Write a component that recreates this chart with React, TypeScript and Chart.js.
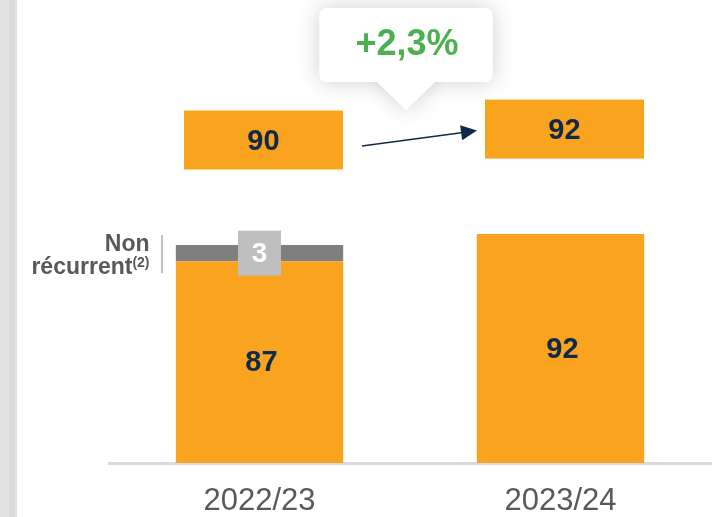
import React, { useEffect, useRef } from "react";
import { Chart, registerables } from "chart.js";

Chart.register(...registerables);

const categories = ["2022/23", "2023/24"];
const recurringValues = [87, 92];
const nonRecurringValues = [3, 0];
const growthLabel = "+2,3%";
const nonRecurringLabelLines = ["Non", "récurrent"];
const nonRecurringNote = "(2)";

const FONT = "'Liberation Sans', Arial, sans-serif";
const ORANGE = "#F9A31F";
const DARK_GRAY = "#7F7F7F";
const LIGHT_GRAY = "#BFBFBF";
const NAVY = "#10294A";
const TEXT_GRAY = "#595959";
const GREEN = "#4CB050";

function roundRect(ctx: CanvasRenderingContext2D, x: number, y: number, w: number, h: number, r: number) {
  ctx.beginPath();
  ctx.moveTo(x + r, y);
  ctx.lineTo(x + w - r, y);
  ctx.quadraticCurveTo(x + w, y, x + w, y + r);
  ctx.lineTo(x + w, y + h - r);
  ctx.quadraticCurveTo(x + w, y + h, x + w - r, y + h);
  ctx.lineTo(x + r, y + h);
  ctx.quadraticCurveTo(x, y + h, x, y + h - r);
  ctx.lineTo(x, y + r);
  ctx.quadraticCurveTo(x, y, x + r, y);
  ctx.closePath();
}

const decorPlugin = {
  id: "decor",
  beforeDraw(chart: any) {
    const ctx = chart.ctx as CanvasRenderingContext2D;
    ctx.save();
    ctx.fillStyle = "#E2E2E2";
    ctx.fillRect(0, 0, 17, chart.height);
    ctx.fillStyle = "#DADADA";
    ctx.fillRect(9, 0, 6, chart.height);
    ctx.restore();
  },
  afterDatasetsDraw(chart: any) {
    const ctx = chart.ctx as CanvasRenderingContext2D;
    const yScale = chart.scales.y;
    const area = chart.chartArea;
    const recMeta = chart.getDatasetMeta(0);
    const nrMeta = chart.getDatasetMeta(1);
    ctx.save();

    // values inside bars
    ctx.textAlign = "center";
    ctx.textBaseline = "middle";
    recMeta.data.forEach((bar: any, i: number) => {
      const base = Math.min(bar.base, area.bottom);
      ctx.fillStyle = NAVY;
      ctx.font = `bold 29px ${FONT}`;
      ctx.fillText(String(recurringValues[i]), bar.x + 2, (bar.y + base) / 2 + 1);
    });
    nrMeta.data.forEach((bar: any, i: number) => {
      const v = nonRecurringValues[i];
      if (!v) return;
      const cy = (bar.y + Math.min(bar.base, area.bottom)) / 2;
      ctx.fillStyle = LIGHT_GRAY;
      ctx.fillRect(bar.x - 21.5, cy - 22.5, 43, 45);
      ctx.fillStyle = "#FFFFFF";
      ctx.font = `bold 28px ${FONT}`;
      ctx.fillText(String(v), bar.x, cy + 1);

      // Non récurrent label
      const rightX = bar.x - 110;
      ctx.fillStyle = TEXT_GRAY;
      ctx.textAlign = "right";
      ctx.textBaseline = "alphabetic";
      ctx.font = `bold 23px ${FONT}`;
      ctx.fillText(nonRecurringLabelLines[0], rightX, cy - 2);
      ctx.font = `bold 14px ${FONT}`;
      const nw = ctx.measureText(nonRecurringNote).width;
      ctx.fillText(nonRecurringNote, rightX, cy + 14);
      ctx.font = `bold 23px ${FONT}`;
      ctx.fillText(nonRecurringLabelLines[1], rightX - nw, cy + 21);
      ctx.strokeStyle = DARK_GRAY;
      ctx.lineWidth = 1;
      ctx.beginPath();
      ctx.moveTo(rightX + 12.5, cy - 18);
      ctx.lineTo(rightX + 12.5, cy + 20);
      ctx.stroke();
      ctx.textAlign = "center";
      ctx.textBaseline = "middle";
    });

    // totals boxes
    const boxes = recMeta.data.map((bar: any, i: number) => {
      const total = recurringValues[i] + nonRecurringValues[i];
      const cx = bar.x + 4;
      const cy = yScale.getPixelForValue(total) - 105;
      return { cx, cy, w: 159, h: 59, total };
    });

    // callout
    const calloutCx = (boxes[0].cx + boxes[1].cx) / 2 - 8;
    const cw = 173;
    const ch = 74;
    const ctop = 8;
    const drawCallout = () => {
      roundRect(ctx, calloutCx - cw / 2, ctop, cw, ch, 8);
      ctx.fill();
      ctx.beginPath();
      ctx.moveTo(calloutCx - 30, ctop + ch - 1);
      ctx.lineTo(calloutCx + 30, ctop + ch - 1);
      ctx.lineTo(calloutCx, ctop + ch + 28);
      ctx.closePath();
      ctx.fill();
    };
    ctx.save();
    ctx.shadowColor = "rgba(0,0,0,0.2)";
    ctx.shadowBlur = 22;
    ctx.fillStyle = "#FFFFFF";
    drawCallout();
    ctx.restore();
    ctx.fillStyle = "#FFFFFF";
    drawCallout();
    ctx.fillStyle = GREEN;
    ctx.font = `bold 36px ${FONT}`;
    ctx.fillText(growthLabel, calloutCx + 1, ctop + 37.5);

    boxes.forEach((b: any) => {
      ctx.fillStyle = ORANGE;
      ctx.fillRect(b.cx - b.w / 2, b.cy - b.h / 2, b.w, b.h);
      ctx.fillStyle = NAVY;
      ctx.font = `bold 29px ${FONT}`;
      ctx.fillText(String(b.total), b.cx, b.cy + 2);
    });

    // arrow
    const b0 = boxes[0];
    const b1 = boxes[1];
    const sx = b0.cx + b0.w / 2 + 19;
    const sy = b0.cy + 6;
    const ex = b1.cx - b1.w / 2 - 8;
    const ey = b1.cy + 1.5;
    const ang = Math.atan2(ey - sy, ex - sx);
    const len = 16;
    const hw = 7.5;
    ctx.strokeStyle = NAVY;
    ctx.fillStyle = NAVY;
    ctx.lineWidth = 1.5;
    ctx.beginPath();
    ctx.moveTo(sx, sy);
    ctx.lineTo(ex - Math.cos(ang) * (len - 2), ey - Math.sin(ang) * (len - 2));
    ctx.stroke();
    const bx = ex - Math.cos(ang) * len;
    const by = ey - Math.sin(ang) * len;
    ctx.beginPath();
    ctx.moveTo(ex, ey);
    ctx.lineTo(bx - Math.sin(ang) * hw, by + Math.cos(ang) * hw);
    ctx.lineTo(bx + Math.sin(ang) * hw, by - Math.cos(ang) * hw);
    ctx.closePath();
    ctx.fill();

    ctx.restore();
  },
};

export default function App() {
  const canvasRef = useRef<HTMLCanvasElement | null>(null);

  useEffect(() => {
    if (!canvasRef.current) return;
    const chart = new Chart(canvasRef.current, {
      type: "bar",
      data: {
        labels: categories,
        datasets: [
          {
            label: "Récurrent",
            data: recurringValues,
            backgroundColor: ORANGE,
            barPercentage: 1,
            categoryPercentage: 0.556,
          },
          {
            label: "Non récurrent",
            data: nonRecurringValues,
            backgroundColor: DARK_GRAY,
            barPercentage: 1,
            categoryPercentage: 0.556,
          },
        ],
      },
      options: {
        responsive: false,
        animation: false,
        layout: { padding: { left: 109, right: 5, top: 27, bottom: 0 } },
        plugins: {
          legend: { display: false },
          tooltip: { enabled: false },
        },
        scales: {
          x: {
            stacked: true,
            grid: { display: false, drawTicks: false },
            border: { display: true, color: "#DADADA", width: 3 },
            ticks: {
              color: TEXT_GRAY,
              padding: 20,
              font: { family: FONT, size: 31 },
            },
            afterFit: (scale: any) => {
              scale.height = 54;
            },
          },
          y: {
            display: false,
            stacked: true,
            min: 50,
            max: 130,
          },
        },
      },
      plugins: [decorPlugin],
    });
    return () => chart.destroy();
  }, []);

  return (
    <div style={{ position: "absolute", left: 0, top: 0, width: 716, height: 517, background: "#fff" }}>
      <canvas ref={canvasRef} width={716} height={517} />
    </div>
  );
}
